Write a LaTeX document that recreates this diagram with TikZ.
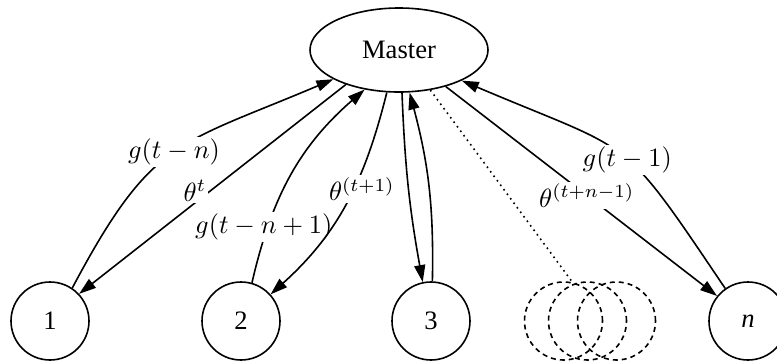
\documentclass[tikz,border=0pt]{standalone}
\usepackage{amsmath, amssymb}
\usepackage{graphicx}
\usepackage[no-math]{fontspec}
\usepackage{tikz}
\usetikzlibrary{arrows.meta, shapes.geometric}
\newfontfamily\timesfont{Liberation Serif}
\newcommand{\edgetext}[1]{\scalebox{1.32}{$#1$}}

\begin{document}
\begin{tikzpicture}[x=0.5pt, y=-0.5pt, line width=0.8pt,
		worker/.style={circle, draw, minimum size=39pt, inner sep=0pt, font=\timesfont\fontsize{13.3}{16}\selectfont},
		ghost/.style={circle, draw, dash pattern=on 2.5pt off 2pt, minimum size=39pt, inner sep=0pt},
		msg/.style={-{Triangle[length=8.5pt, width=5.5pt]}},
		lbl/.style={fill=white, inner sep=1pt}]
		\useasboundingbox (0,0) rectangle (777,360);

		\node[ellipse, draw, minimum width=89pt, minimum height=42pt, inner sep=0pt, font=\timesfont\fontsize{13.3}{16}\selectfont] (master) at (399,50) {Master};
		\node[worker] (w1) at (50,321) {1};
		\node[worker] (w2) at (241,321) {2};
		\node[worker] (w3) at (431,321) {3};
		\node[ghost] (d1) at (563.5,321) {};
		\node[ghost] (d2) at (587.5,321) {};
		\node[ghost] (d3) at (616.5,321) {};
		\node[worker] (wn) at (748,321) {\itshape n};

		\draw[msg] (w1.56) to[out=62, in=203, looseness=1.3] node[lbl, pos=.5] {\edgetext{g(t-n)}} (master.204);
		\draw[msg] (master.213) -- node[lbl, pos=.566, yshift=6pt] {\edgetext{\theta^{t}}} (w1.43);
		\draw[msg] (w2.74) to[out=77, in=221] node[lbl, pos=.24, xshift=-2pt] {\edgetext{g(t-n+1)}} (master.229);
		\draw[msg] (master.254) to[out=256, in=42] node[lbl, pos=.4, xshift=3pt, yshift=-2.5pt] {\edgetext{\theta^{(t+1)}}} (w2.42);
		\draw[msg] (master.274) to[bend right=4] (w3.102);
		\draw[msg] (w3.88) to[bend right=8] (master.284);
		\draw[dotted] (master.308) -- (d1.77);
		\draw[msg] (master.322) -- node[lbl, pos=.52] {\edgetext{\theta^{(t+n-1)}}} (wn.141);
		\draw[msg] (wn.125) to[out=124, in=337, looseness=1.45] node[lbl, pos=.5, xshift=4pt, yshift=-3.5pt] {\edgetext{g(t-1)}} (master.334);
	\end{tikzpicture}
\end{document}
